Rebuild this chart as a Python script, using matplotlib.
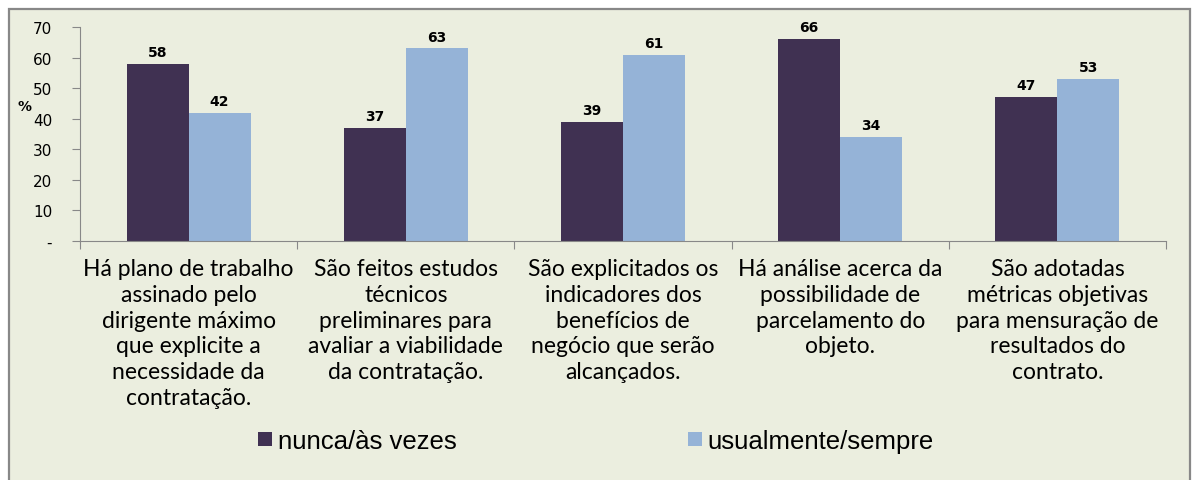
import numpy as np
import matplotlib.pyplot as plt
from matplotlib.patches import Rectangle

# Data
categories = [
    "Há plano de trabalho\nassinado pelo\ndirigente máximo\nque explicite a\nnecessidade da\ncontratação.",
    "São feitos estudos\ntécnicos\npreliminares para\navaliar a viabilidade\nda contratação.",
    "São explicitados os\nindicadores dos\nbenefícios de\nnegócio que serão\nalcançados.",
    "Há análise acerca da\npossibilidade de\nparcelamento do\nobjeto.",
    "São adotadas\nmétricas objetivas\npara mensuração de\nresultados do\ncontrato.",
]
nunca = [58, 37, 39, 66, 47]
usualmente = [42, 63, 61, 34, 53]
series_names = ["nunca/às vezes", "usualmente/sempre"]
yticks = [0, 10, 20, 30, 40, 50, 60, 70]
ytick_labels = ["-", "10", "20", "30", "40", "50", "60", "70"]

dark = "#403152"
light = "#95B3D7"
bg = "#EBEEDF"
grey = "#888888"

W, H = 1192, 481
fig = plt.figure(figsize=(W / 100, H / 100), dpi=100, facecolor="white")

# outer chart frame
fig.patches.append(Rectangle((9 / W, -0.05), (1190 - 9) / W, (H - 10) / H + 0.05,
                             transform=fig.transFigure, facecolor=bg,
                             edgecolor=grey, lw=1.6, zorder=-10))

ax = fig.add_axes([80 / W, (H - 242) / H, (1166 - 80) / W, (242 - 28) / H])
ax.set_facecolor("none")

x = np.arange(len(categories))
w = 0.285
b1 = ax.bar(x - w / 2, nunca, w, color=dark, label=series_names[0])
b2 = ax.bar(x + w / 2, usualmente, w, color=light, label=series_names[1])

for bars, vals in ((b1, nunca), (b2, usualmente)):
    for r, v in zip(bars, vals):
        ax.annotate(str(v), (r.get_x() + r.get_width() / 2, v), xytext=(0, 3.5),
                    textcoords="offset points", ha="center", va="bottom",
                    fontsize=10, fontweight="bold", family="DejaVu Sans")

ax.set_xlim(-0.5, len(categories) - 0.5)
ax.set_ylim(0, 70)
ax.set_yticks(yticks)
ax.set_yticklabels(ytick_labels, fontsize=11, family="DejaVu Sans")
ax.tick_params(axis="y", direction="out", length=6, color=grey, pad=14)

ax.set_xticks(np.arange(len(categories) + 1) - 0.5)
ax.set_xticklabels([])
ax.tick_params(axis="x", which="major", direction="out", length=6, color=grey)
ax.set_xticks(x, minor=True)
ax.set_xticklabels(categories, minor=True, fontsize=16.5, family="Lato",
                   linespacing=1.29)
ax.tick_params(axis="x", which="minor", length=0, pad=12)

for s in ("top", "right"):
    ax.spines[s].set_visible(False)
for s in ("left", "bottom"):
    ax.spines[s].set_color(grey)

ax.set_ylabel("%", rotation=0, fontsize=10, fontweight="bold", family="DejaVu Sans")
ax.yaxis.set_label_coords(-0.051, 0.60)

fig.legend(handles=[b1, b2], labels=series_names, loc="center left",
           bbox_to_anchor=(258 / W, 1 - 442 / H), ncol=2, frameon=False,
           prop={"family": "Liberation Sans", "size": 18.5},
           handlelength=0.54, handleheight=0.47, handletextpad=0.23,
           columnspacing=9.0, borderpad=0, borderaxespad=0)

fig.savefig("out.png", dpi=100, facecolor="white")
